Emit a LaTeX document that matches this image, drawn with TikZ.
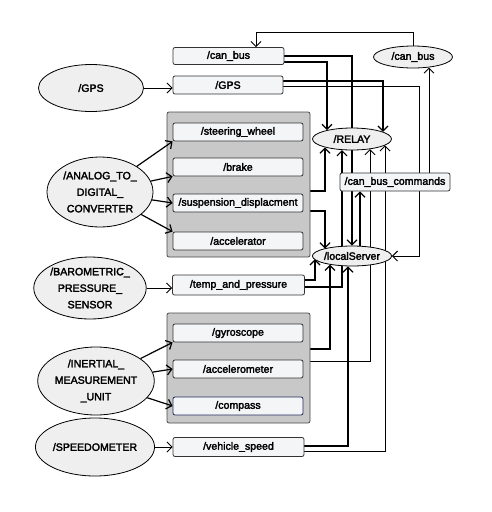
\documentclass[tikz,border=0pt]{standalone}
\usepackage{fontspec}
\newfontfamily\rosfont{Liberation Sans}[FakeBold=2.5]
\usetikzlibrary{calc,arrows.meta,shapes.geometric,positioning,backgrounds}
\definecolor{topicfill}{HTML}{F4F5F7}
\definecolor{nodefill}{HTML}{EFEFEF}
\definecolor{groupfill}{HTML}{C8C8C8}
\definecolor{groupdraw}{HTML}{4A4A4A}
\definecolor{compassdraw}{HTML}{1E2A5E}

\begin{document}
\begin{tikzpicture} [x=1pt,y=-1pt,{topic/.style={rectangle,rounded corners=2pt,draw=black!80,fill=topicfill,line width=0.8pt,minimum height=18pt,inner sep=0pt,font=\rosfont\fontsize{10.6}{12}\selectfont}},{rosnode/.style={ellipse,draw=black,fill=nodefill,line width=0.8pt,inner sep=0pt,align=center,font=\rosfont\fontsize{10.6}{16.5}\selectfont}},{group/.style={rectangle,rounded corners=2pt,draw=groupdraw,fill=groupfill,line width=0.8pt}},{link/.style={-{Straight Barb[length=5pt,width=10pt]},line width=0.9pt}},{boldlink/.style={link,line width=1.2pt}}]
		\useasboundingbox (0,0) rectangle (492,512);
		%%sensor groups
		\node at (238.5,184.5) [group,minimum width=143pt,minimum height=145pt] (grp1) {};
		\node at (238.5,368) [group,minimum width=143pt,minimum height=110pt] (grp2) {};
		%%topics
		\node at (228.5,56) [topic,minimum width=111pt,minimum height=17pt] (cbtopic) {/can\_bus};
		\node at (228,85) [topic,minimum width=110pt] (gpstopic) {/GPS};
		\node at (238,132) [topic,minimum width=130pt] (steer) {/steering\_wheel};
		\node at (238,167) [topic,minimum width=130pt] (brake) {/brake};
		\node at (238,203) [topic,minimum width=130pt] (susp) {/suspension\_displacment};
		\node at (238,241) [topic,minimum width=130pt] (accel) {/accelerator};
		\node at (238.5,285) [topic,minimum width=132pt,minimum height=20pt] (temp) {/temp\_and\_pressure};
		\node at (238,333) [topic,minimum width=130pt] (gyro) {/gyroscope};
		\node at (238,369) [topic,minimum width=130pt] (accm) {/accelerometer};
		\node at (238,406) [topic,draw=compassdraw,minimum width=130pt] (compass) {/compass};
		\node at (238.5,447) [topic,minimum width=131pt,minimum height=19pt] (vspeed) {/vehicle\_speed};
		\node at (395,182) [topic,minimum width=110pt] (cbcmd) {/can\_bus\_commands};
		
		%%ros nodes
		\node at (91,88) [rosnode,minimum width=105pt,minimum height=47pt] (gps) {/GPS};
		\node at (100,192) [rosnode,minimum width=106pt,minimum height=70pt] (adc) {/ANALOG\_TO\_\\DIGITAL\_\\CONVERTER};
		\node at (90,288) [rosnode,minimum width=104pt,minimum height=62pt] (baro) {/BAROMETRIC\_\\PRESSURE\_\\SENSOR};
		\node at (96,381) [rosnode,minimum width=104pt,minimum height=68pt] (imu) {/INERTIAL\_\\MEASUREMENT\\\_UNIT};
		\node at (95,447) [rosnode,minimum width=102pt,minimum height=58pt] (speedo) {/SPEEDOMETER};
		\node at (352,139) [rosnode,minimum width=79pt,minimum height=22pt] (relay) {/RELAY};
		\node at (413,57) [rosnode,minimum width=79pt,minimum height=22pt] (cbnode) {/can\_bus};
		\node at (352,256) [rosnode,minimum width=77pt,minimum height=20pt] (local) {/localServer};
		
		%%sensors to topics
		\draw [link] (gps.east) -- (gps.east -| gpstopic.west);
		\draw [boldlink] (adc) -- (steer.south west);
		\draw [boldlink] (adc) -- (brake.south west);
		\draw [boldlink] (adc) -- (susp.west);
		\draw [boldlink] (adc) -- (accel.north west);
		\draw [link] (baro.east) -- (baro.east -| temp.west);
		\draw [boldlink] (imu) -- (gyro.south west);
		\draw [boldlink] (imu) -- (accm.west);
		\draw [boldlink] (imu) -- (compass.west);
		\draw [link] (speedo.east) -- (speedo.east -| vspeed.west);
		
		\begin{scope}[on background layer]
		%%topics to relay
		\draw [boldlink] ($(cbtopic.east)+(0,6)$) -| ($(relay.north)+(-25,2.5)$);
		\draw [boldlink] ($(gpstopic.east)+(0,-4)$) -| ($(relay.north)+(31,4.2)$);
		\draw [boldlink] ($(grp1.east)+(0,6.5)$) -| ($(relay.south)+(-27,-3)$);
		\draw [boldlink] ($(temp.east)+(0,2)$) -| ($(relay.south)+(-10,-0.4)$);
		\draw [link] ($(grp2.east)+(0,-7)$) -| ($(relay.south)+(18,-1.2)$);
		\draw [link] ($(vspeed.east)+(0,4)$) -| ($(relay.south)+(33,-5)$);
		%%topics to local server
		\draw [boldlink] (cbtopic.east) -| (local.north);
		\draw [link] ($(gpstopic.east)+(0,1)$) -| ($(local.east)+(27,0)$) -- (local.east);
		\draw [boldlink] ($(grp1.east)+(0,26.5)$) -| ($(local.north)+(-27,2.9)$);
		\draw [boldlink] ($(temp.east)+(0,-5)$) -| ($(local.south)+(-37,-7.2)$);
		\draw [boldlink] ($(grp2.east)+(0,-19)$) -| ($(local.south)+(-22,-1.8)$);
		\draw [boldlink] ($(vspeed.east)+(0,-1)$) -| ($(local.south)+(-4,0)$);
		%%commands back to the bus
		\draw [boldlink] ($(local.north)+(8,0.2)$) -- ($(cbcmd.south)+(-35,0)$);
		\draw [link] ($(cbcmd.north)+(34,0)$) -- ($(cbnode.south)+(16,-0.9)$);
		\draw [link] (cbnode.north) -- ++(0,-13) -| ($(cbtopic.north)+(27.5,0)$);
		\end{scope}
		
	\end{tikzpicture}
\end{document}
